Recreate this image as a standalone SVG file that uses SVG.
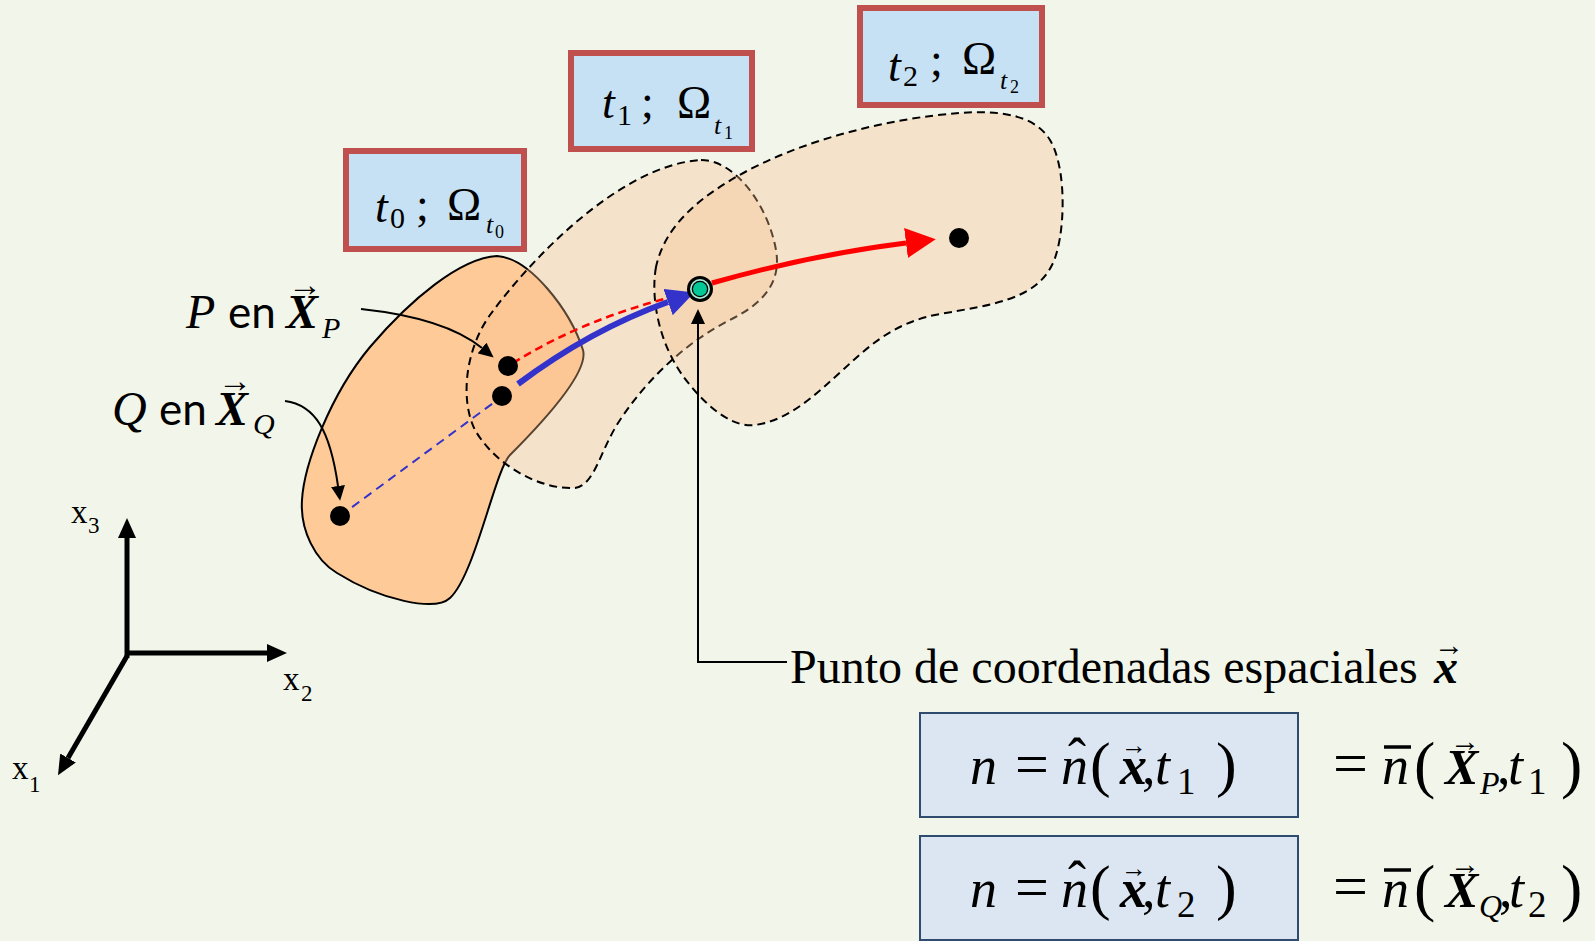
<svg xmlns="http://www.w3.org/2000/svg" width="1595" height="941" viewBox="0 0 1595 941">
<defs>
<style>
.tbox{fill:#C6E0F4;stroke:#C0504D;stroke-width:6}
.ebox{fill:#DCE6F2;stroke:#2F4B6E;stroke-width:2}
.tnr{font-family:"Liberation Serif","Times New Roman",serif;fill:#000}
.sans{font-family:Lato,"Liberation Sans",sans-serif;fill:#000}
.it{font-style:italic}
.bi{font-style:italic;font-weight:bold}
.region{stroke:#000;stroke-width:2}
.ghost{fill:#FAC090;fill-opacity:0.35;stroke-dasharray:8 5}
.thin{fill:none;stroke:#000;stroke-width:2}
.axis{fill:none;stroke:#000;stroke-width:5}
</style>
<marker id="ahBlack" markerUnits="userSpaceOnUse" markerWidth="15" markerHeight="14" viewBox="0 0 15 14" refX="0" refY="7" orient="auto"><path d="M0,0 L15,7 L0,14 z" fill="#000"/></marker>
<marker id="ahAxis" markerUnits="userSpaceOnUse" markerWidth="20" markerHeight="18" viewBox="0 0 20 18" refX="0" refY="9" orient="auto"><path d="M0,0 L20,9 L0,18 z" fill="#000"/></marker>
<marker id="ahBlue" markerUnits="userSpaceOnUse" markerWidth="28" markerHeight="28" viewBox="0 0 28 28" refX="0" refY="14" orient="auto"><path d="M0,0 L28,14 L0,28 z" fill="#3333CC"/></marker>
<marker id="ahRed" markerUnits="userSpaceOnUse" markerWidth="30" markerHeight="30" viewBox="0 0 30 30" refX="0" refY="15" orient="auto"><path d="M0,0 L30,15 L0,30 z" fill="#FF0000"/></marker>
</defs>
<rect width="1595" height="941" fill="#F2F6EA"/>

<g id="region-t0">
<path class="region" fill="#FECB98" d="M497,256 C530,258 570,310 583,350 C588,368 560,405 510,455 C495,470 475,575 450,598 C435,612 380,600 337,573 C315,560 300,530 302,500 C304,465 330,395 370,347 C410,300 460,258 497,256 Z"/>
</g>
<g id="region-t1">
<path class="region ghost" d="M701,160 C735,160 768,205 776,250 C782,285 760,305 730,320 C690,340 650,375 620,420 C600,450 595,485 575,488 C540,490 495,465 475,430 C460,400 465,350 490,315 C530,260 620,165 701,160 Z"/>
</g>
<g id="region-t2">
<path class="region ghost" d="M656,267 C650,300 660,350 690,385 C710,410 735,428 755,425 C790,420 815,395 845,368 C870,345 895,322 940,314 C990,305 1035,300 1052,265 C1065,240 1068,170 1050,140 C1035,115 1000,110 960,113 C890,118 800,140 736,177 C700,198 665,225 656,267 Z"/>
</g>

<g id="box-t0">
<rect class="tbox" x="346" y="151" width="178" height="98"/>
<text class="tnr" font-size="46"><tspan class="it" x="375" y="222">t</tspan><tspan x="390" y="228" font-size="30">0</tspan><tspan x="416" y="220">;</tspan><tspan x="447" y="220">Ω</tspan><tspan class="it" x="486" y="233" font-size="26">t</tspan><tspan x="495" y="238" font-size="18">0</tspan></text>
</g>
<g id="box-t1">
<rect class="tbox" x="571" y="53" width="181" height="96"/>
<text class="tnr" font-size="46"><tspan class="it" x="602" y="118">t</tspan><tspan x="617" y="125" font-size="30">1</tspan><tspan x="641" y="117">;</tspan><tspan x="677" y="118">Ω</tspan><tspan class="it" x="714" y="134" font-size="26">t</tspan><tspan x="724" y="139" font-size="18">1</tspan></text>
</g>
<g id="box-t2">
<rect class="tbox" x="860" y="8" width="182" height="97"/>
<text class="tnr" font-size="46"><tspan class="it" x="888" y="81">t</tspan><tspan x="903" y="86" font-size="30">2</tspan><tspan x="930" y="75">;</tspan><tspan x="962" y="74">Ω</tspan><tspan class="it" x="1000" y="89" font-size="26">t</tspan><tspan x="1010" y="93" font-size="18">2</tspan></text>
</g>

<g id="connectors">
<path d="M340,516 L500,398" fill="none" stroke="#3333CC" stroke-width="2" stroke-dasharray="9 6"/>
<path d="M513,363 Q585,318 680,295" fill="none" stroke="#FF0000" stroke-width="2.5" stroke-dasharray="8 5"/>
<path d="M518,384 Q590,330 668,302" fill="none" stroke="#3333CC" stroke-width="6" marker-end="url(#ahBlue)"/>
<path d="M712,283 Q810,255 906,243" fill="none" stroke="#FF0000" stroke-width="5" marker-end="url(#ahRed)"/>
<path class="thin" d="M361,309 Q445,318 482,348" marker-end="url(#ahBlack)"/>
<path class="thin" d="M285,401 C315,405 330,430 338,486" marker-end="url(#ahBlack)"/>
<path class="thin" d="M787,662 L698,662 L698,324" marker-end="url(#ahBlack)"/>
<path class="axis" d="M127,658 L127,538" marker-end="url(#ahAxis)"/>
<path class="axis" d="M125,653 L267,653" marker-end="url(#ahAxis)"/>
<path class="axis" d="M127,656 L68,758" marker-end="url(#ahAxis)"/>
</g>

<g id="point-P"><circle cx="508" cy="366" r="10" fill="#000"/></g>
<g id="point-Q1"><circle cx="502" cy="396" r="10" fill="#000"/></g>
<g id="point-Q0"><circle cx="340" cy="516" r="10" fill="#000"/></g>
<g id="point-t2"><circle cx="959" cy="238" r="10" fill="#000"/></g>
<g id="point-x">
<circle cx="700" cy="289" r="13" fill="#000"/>
<circle cx="700" cy="289" r="10" fill="#A6EBD3"/>
<circle cx="700" cy="289" r="8.3" fill="#000"/>
<circle cx="700" cy="289" r="7" fill="#00C896"/>
</g>

<g id="label-P">
<text y="328"><tspan class="tnr it" x="186" font-size="48">P</tspan><tspan class="sans" x="228" font-size="44">en</tspan><tspan class="tnr bi" x="286" font-size="48">X</tspan><tspan class="tnr it" x="322" y="338" font-size="30">P</tspan></text>
<text class="tnr" x="305" y="296" font-size="34" text-anchor="middle">→</text>
</g>
<g id="label-Q">
<text y="425"><tspan class="tnr it" x="112" font-size="48">Q</tspan><tspan class="sans" x="159" font-size="44">en</tspan><tspan class="tnr bi" x="216" font-size="48">X</tspan><tspan class="tnr it" x="253" y="434" font-size="30">Q</tspan></text>
<text class="tnr" x="235" y="392" font-size="34" text-anchor="middle">→</text>
</g>

<g id="axes-labels">
<text class="tnr" font-size="33"><tspan x="71" y="523">x</tspan><tspan x="88" y="533" font-size="23">3</tspan></text>
<text class="tnr" font-size="33"><tspan x="283" y="690">x</tspan><tspan x="301" y="701" font-size="23">2</tspan></text>
<text class="tnr" font-size="33"><tspan x="12" y="779">x</tspan><tspan x="29" y="792" font-size="23">1</tspan></text>
</g>

<g id="label-punto">
<text class="tnr" font-size="48" x="790" y="683">Punto de coordenadas espaciales</text>
<text class="tnr bi" font-size="48" x="1434" y="683">x</text>
<text class="tnr" font-size="30" x="1449" y="655" text-anchor="middle">→</text>
</g>

<g id="eq-1">
<rect class="ebox" x="920" y="713" width="378" height="104"/>
<text class="tnr" font-size="54"><tspan class="it" x="970" y="784">n</tspan><tspan x="1015" y="784" font-size="60">=</tspan><tspan class="it" x="1061" y="784">n</tspan><tspan x="1090" y="785" font-size="62">(</tspan><tspan class="bi" x="1120" y="784">x</tspan><tspan x="1142" y="784">,</tspan><tspan class="it" x="1155" y="784">t</tspan><tspan x="1177" y="794" font-size="37">1</tspan><tspan x="1216" y="785" font-size="62">)</tspan></text>
<text class="tnr" font-size="54" x="1077" y="776" text-anchor="middle">ˆ</text>
<text class="tnr" font-size="26" x="1134" y="754" text-anchor="middle">→</text>
<text class="tnr" font-size="54"><tspan x="1333" y="784" font-size="62">=</tspan><tspan class="it" x="1382" y="784">n</tspan><tspan x="1414" y="786" font-size="64">(</tspan><tspan class="bi" x="1445" y="784" font-size="50">X</tspan><tspan class="it" x="1480" y="794" font-size="32">P</tspan><tspan x="1497" y="784">,</tspan><tspan class="it" x="1508" y="784">t</tspan><tspan x="1528" y="794" font-size="37">1</tspan><tspan x="1561" y="786" font-size="64">)</tspan></text>
<line x1="1384" y1="747" x2="1411" y2="747" stroke="#000" stroke-width="3.5"/>
<text class="tnr" font-size="30" x="1465" y="751" text-anchor="middle">→</text>
</g>

<g id="eq-2">
<rect class="ebox" x="920" y="836" width="378" height="104"/>
<text class="tnr" font-size="54"><tspan class="it" x="970" y="907">n</tspan><tspan x="1015" y="907" font-size="60">=</tspan><tspan class="it" x="1061" y="907">n</tspan><tspan x="1090" y="908" font-size="62">(</tspan><tspan class="bi" x="1120" y="907">x</tspan><tspan x="1142" y="907">,</tspan><tspan class="it" x="1155" y="907">t</tspan><tspan x="1177" y="917" font-size="37">2</tspan><tspan x="1216" y="908" font-size="62">)</tspan></text>
<text class="tnr" font-size="54" x="1077" y="899" text-anchor="middle">ˆ</text>
<text class="tnr" font-size="26" x="1134" y="877" text-anchor="middle">→</text>
<text class="tnr" font-size="54"><tspan x="1333" y="907" font-size="62">=</tspan><tspan class="it" x="1382" y="907">n</tspan><tspan x="1414" y="909" font-size="64">(</tspan><tspan class="bi" x="1445" y="907" font-size="50">X</tspan><tspan class="it" x="1479" y="917" font-size="32">Q</tspan><tspan x="1499" y="907">,</tspan><tspan class="it" x="1509" y="907">t</tspan><tspan x="1528" y="917" font-size="37">2</tspan><tspan x="1561" y="909" font-size="64">)</tspan></text>
<line x1="1384" y1="870" x2="1411" y2="870" stroke="#000" stroke-width="3.5"/>
<text class="tnr" font-size="30" x="1465" y="874" text-anchor="middle">→</text>
</g>
</svg>
